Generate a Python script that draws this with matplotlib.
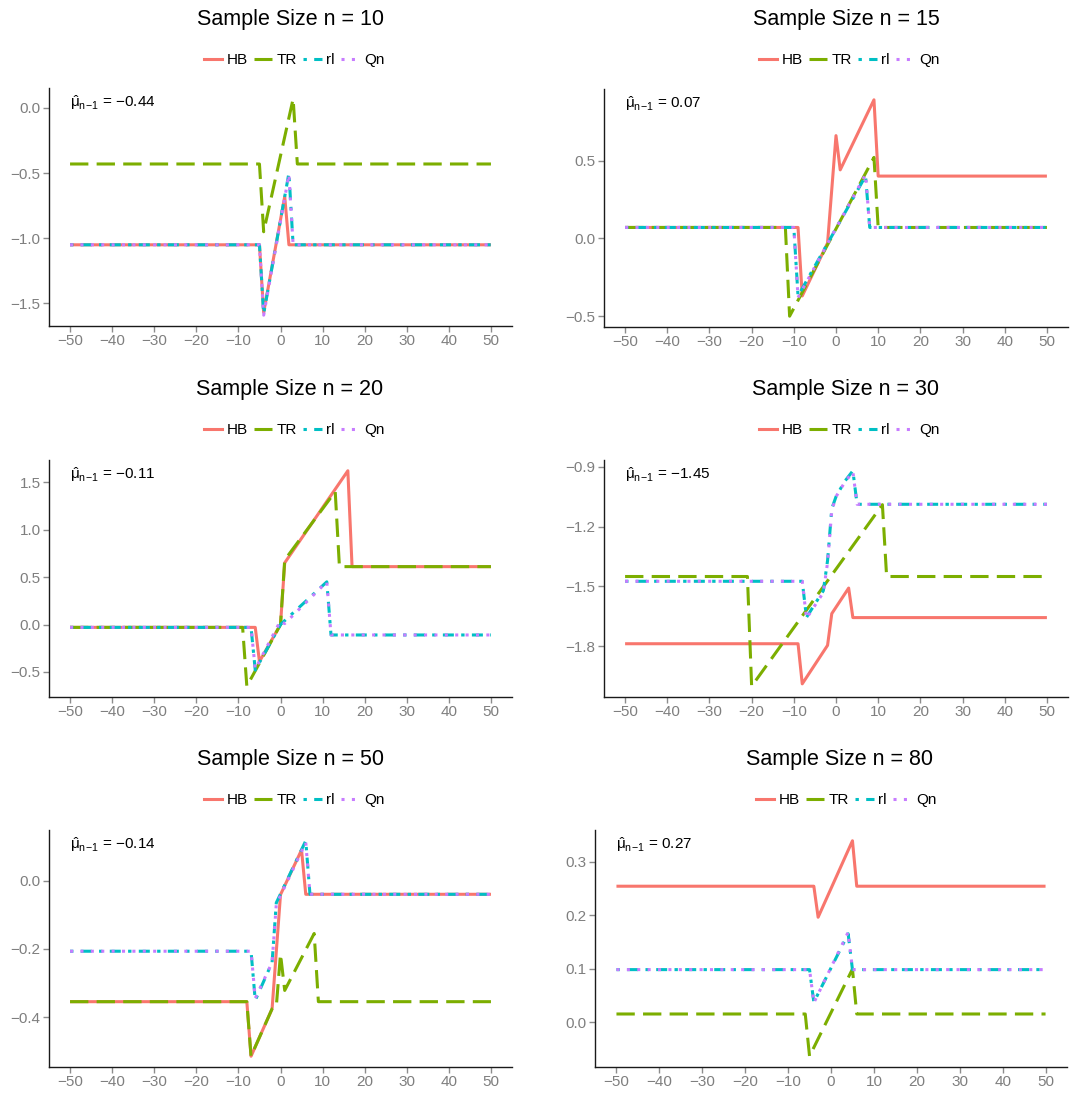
import matplotlib
matplotlib.use('Agg')
import matplotlib.pyplot as plt
from matplotlib.lines import Line2D
from matplotlib.transforms import blended_transform_factory

plt.rcParams['font.family'] = ['Liberation Sans', 'DejaVu Sans']
plt.rcParams['mathtext.fontset'] = 'custom'
plt.rcParams['mathtext.rm'] = 'Liberation Sans'
plt.rcParams['mathtext.it'] = 'Liberation Sans:italic'

# ---- data (breakpoints) ----
sizes = [10, 15, 20, 30, 50, 80]
mu_hat = ['-0.44', '0.07', '-0.11', '-1.45', '-0.14', '0.27']
estimators = ['HB', 'TR', 'rl', 'Qn']

hb10_x = [-50, -5, -4, 1, 2, 50]
hb10_y = [-1.05, -1.05, -1.57, -0.68, -1.05, -1.05]
tr10_x = [-50, -5, -4, 3, 4, 50]
tr10_y = [-0.43, -0.43, -0.95, 0.07, -0.43, -0.43]
rl10_x = [-50, -5, -4, 2, 3, 50]
rl10_y = [-1.05, -1.05, -1.58, -0.50, -1.05, -1.05]
qn10_x = [-50, -5, -4, 2, 3, 50]
qn10_y = [-1.05, -1.05, -1.59, -0.51, -1.05, -1.05]

hb15_x = [-50, -9, -8, -2, 0, 1, 9, 10, 50]
hb15_y = [0.07, 0.07, -0.37, -0.03, 0.66, 0.44, 0.89, 0.40, 0.40]
tr15_x = [-50, -12, -11, 9, 10, 50]
tr15_y = [0.07, 0.07, -0.50, 0.52, 0.07, 0.07]
rl15_x = [-50, -10, -9, 7, 8, 50]
rl15_y = [0.07, 0.07, -0.37, 0.40, 0.07, 0.07]
qn15_x = [-50, -10, -9, 7, 8, 50]
qn15_y = [0.07, 0.07, -0.38, 0.41, 0.07, 0.07]

hb20_x = [-50, -6, -5, 0, 1, 16, 17, 50]
hb20_y = [-0.03, -0.03, -0.39, 0.0, 0.65, 1.62, 0.61, 0.61]
tr20_x = [-50, -9, -8, 0, 1, 13, 14, 50]
tr20_y = [-0.03, -0.03, -0.65, 0.0, 0.68, 1.40, 0.61, 0.61]
rl20_x = [-50, -7, -6, 0, 11, 12, 50]
rl20_y = [-0.03, -0.03, -0.48, 0.0, 0.45, -0.11, -0.11]
qn20_x = [-50, -7, -6, 0, 1, 11, 12, 50]
qn20_y = [-0.03, -0.03, -0.47, 0.04, 0.01, 0.45, -0.11, -0.11]

hb30_x = [-50, -9, -8, -2, -1, 3, 4, 50]
hb30_y = [-1.787, -1.787, -1.988, -1.795, -1.636, -1.508, -1.656, -1.656]
tr30_x = [-50, -21, -20, 11, 12, 50]
tr30_y = [-1.45, -1.45, -2.00, -1.09, -1.45, -1.45]
rl30_x = [-50, -8, -7, -3, -2, -1, 0, 2, 4, 5, 50]
rl30_y = [-1.474, -1.474, -1.655, -1.521, -1.37, -1.11, -1.05, -0.975, -0.92, -1.088, -1.088]
qn30_x = [-50, -8, -7, -3, -2, -1, 0, 2, 4, 5, 50]
qn30_y = [-1.474, -1.474, -1.66, -1.53, -1.38, -1.12, -1.05, -0.98, -0.925, -1.088, -1.088]

hb50_x = [-50, -8, -7, -2, 0, 5, 6, 50]
hb50_y = [-0.355, -0.355, -0.515, -0.376, -0.041, 0.09, -0.04, -0.04]
tr50_x = [-50, -8, -7, -2, -1, 0, 1, 8, 9, 50]
tr50_y = [-0.355, -0.355, -0.515, -0.376, -0.37, -0.215, -0.322, -0.155, -0.355, -0.355]
rl50_x = [-50, -7, -6, -2, -1, 6, 7, 50]
rl50_y = [-0.207, -0.207, -0.351, -0.24, -0.065, 0.117, -0.04, -0.04]
qn50_x = [-50, -7, -6, -2, -1, 6, 7, 50]
qn50_y = [-0.207, -0.207, -0.345, -0.24, -0.07, 0.112, -0.04, -0.04]

hb80_x = [-50, -4, -3, 5, 6, 50]
hb80_y = [0.254, 0.254, 0.196, 0.339, 0.254, 0.254]
tr80_x = [-50, -6, -5, 5, 6, 50]
tr80_y = [0.015, 0.015, -0.064, 0.099, 0.015, 0.015]
rl80_x = [-50, -5, -4, 4, 5, 50]
rl80_y = [0.098, 0.098, 0.037, 0.165, 0.098, 0.098]
qn80_x = [-50, -5, -4, 4, 5, 50]
qn80_y = [0.098, 0.098, 0.036, 0.168, 0.098, 0.098]

yticks = [
    [-1.5, -1.0, -0.5, 0.0],
    [-0.5, 0.0, 0.5],
    [-0.5, 0.0, 0.5, 1.0, 1.5],
    [-1.8, -1.5, -1.2, -0.9],
    [-0.4, -0.2, 0.0],
    [0.0, 0.1, 0.2, 0.3],
]
xticks = list(range(-50, 51, 10))

panels = [
    [(hb10_x, hb10_y), (tr10_x, tr10_y), (rl10_x, rl10_y), (qn10_x, qn10_y)],
    [(hb15_x, hb15_y), (tr15_x, tr15_y), (rl15_x, rl15_y), (qn15_x, qn15_y)],
    [(hb20_x, hb20_y), (tr20_x, tr20_y), (rl20_x, rl20_y), (qn20_x, qn20_y)],
    [(hb30_x, hb30_y), (tr30_x, tr30_y), (rl30_x, rl30_y), (qn30_x, qn30_y)],
    [(hb50_x, hb50_y), (tr50_x, tr50_y), (rl50_x, rl50_y), (qn50_x, qn50_y)],
    [(hb80_x, hb80_y), (tr80_x, tr80_y), (rl80_x, rl80_y), (qn80_x, qn80_y)],
]

# ---- styling ----
colors = ['#F8766D', '#7CAE00', '#00BFC4', '#C77CFF']
styles = ['-', (0, (6.0, 2.7)), (0, (1.1, 2.4, 3.6, 2.4)), (0, (1.0, 2.4))]
lw = 2.2

W, H = 1080, 1094
# axes boxes in pixels: left, top, right, bottom
boxes = [
    (49, 88, 512, 326), (604, 89, 1068, 327),
    (49, 460, 512, 697), (604, 460, 1068, 697),
    (49, 830, 512, 1067), (595, 830, 1067, 1067),
]
title_pos = [(290, 19), (846, 19), (290, 389), (846, 389), (290, 759), (840, 759)]
legend_pos = [(294, 60), (849, 60), (294, 430), (849, 430), (294, 800), (846, 800)]

fig = plt.figure(figsize=(W / 100, H / 100), dpi=100)
fig.patch.set_facecolor('white')

for i, series in enumerate(panels):
    l, t, r, b = boxes[i]
    ax = fig.add_axes([l / W, 1 - b / H, (r - l) / W, (b - t) / H])
    for (xs, ys), c, ls in zip(series, colors, styles):
        ax.plot(xs, ys, color=c, linestyle=ls, lw=lw, solid_capstyle='butt',
                dash_capstyle='butt')
    ally = [v for _, ys in series for v in ys]
    lo, hi = min(ally), max(ally)
    pad = 0.05 * (hi - lo)
    ax.set_ylim(lo - pad, hi + pad)
    ax.set_xlim(-55, 55)
    ax.set_xticks(xticks)
    ax.set_yticks(yticks[i])
    ax.set_yticklabels([f'{v:.1f}'.replace('-', '\u2212') for v in yticks[i]])
    ax.set_xticklabels([str(v).replace('-', '\u2212') for v in xticks])
    for s in ['top', 'right']:
        ax.spines[s].set_visible(False)
    for s in ['left', 'bottom']:
        ax.spines[s].set_color('#1a1a1a')
        ax.spines[s].set_linewidth(1.0)
    ax.tick_params(colors='#8c8c8c', labelcolor='#7f7f7f', labelsize=11,
                   length=4, width=1.0, pad=2)

    trans = blended_transform_factory(ax.transData, ax.transAxes)
    label = (r'$\hat{\mathrm{\mu}}_{\mathrm{n}\!-\!\mathrm{1}}$'
             + ' = ' + mu_hat[i].replace('-', '\u2212'))
    ax.text(-50, 0.94, label, transform=trans, ha='left', va='center',
            fontsize=11, color='black')

    tx, ty = title_pos[i]
    fig.text(tx / W, 1 - ty / H, f'Sample Size n = {sizes[i]}', ha='center', va='center',
             fontsize=15.5, color='black')

    handles = [Line2D([0], [0], color=c, linestyle=ls, lw=lw) for c, ls in zip(colors, styles)]
    lx, ly = legend_pos[i]
    ax.legend(handles, estimators, loc='center', bbox_to_anchor=(lx / W, 1 - ly / H),
              bbox_transform=fig.transFigure, ncol=4, frameon=False, fontsize=11,
              handlelength=1.2, handletextpad=0.3, columnspacing=0.4, borderpad=0)

plt.savefig('out.png', dpi=100, facecolor='white')
